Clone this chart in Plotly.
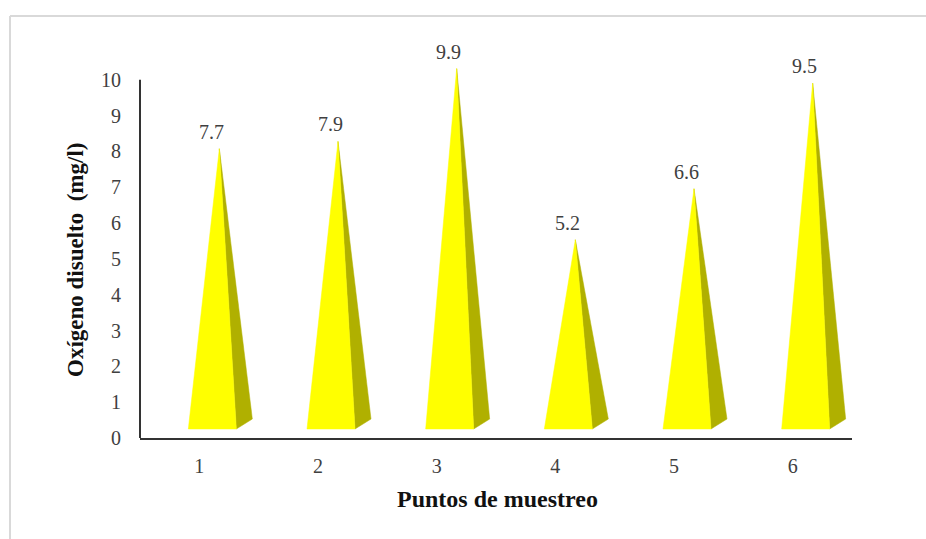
import plotly.graph_objects as go

# Sampling points and dissolved oxygen readings (mg/l)
puntos = ["1", "2", "3", "4", "5", "6"]
oxigeno = [7.7, 7.9, 9.9, 5.2, 6.6, 9.5]
y_ticks = [0, 1, 2, 3, 4, 5, 6, 7, 8, 9, 10]

W, H = 926, 539
L, R, T, B = 140, 74, 44, 101
Y_MAX = 11.0
px_x = (W - L - R) / 6.0          # pixels per category
px_y = (H - T - B) / Y_MAX        # pixels per y unit

# pyramid geometry (pixel offsets converted to data units)
base_front = 9 / px_y
base_back = 19 / px_y
x_left = -11 / px_x
x_right = 37 / px_x
x_back = 53 / px_x
x_apex = 20 / px_x
depth_scale = 36.4 / px_y

FRONT = "#FFFF00"
SIDE = "#B0B000"
SERIF = "Liberation Serif, Times New Roman, serif"

fig = go.Figure()
annotations = []
for i, (p, v) in enumerate(zip(puntos, oxigeno)):
    c = i + 1
    apex_y = base_front + v * depth_scale
    # right side face (shaded)
    fig.add_trace(go.Scatter(
        x=[c + x_right, c + x_back, c + x_apex, c + x_right],
        y=[base_front, base_back, apex_y, base_front],
        mode="lines", fill="toself", fillcolor=SIDE,
        line=dict(width=0.5, color=SIDE), hoverinfo="skip", showlegend=False))
    # front face
    fig.add_trace(go.Scatter(
        x=[c + x_left, c + x_right, c + x_apex, c + x_left],
        y=[base_front, base_front, apex_y, base_front],
        mode="lines", fill="toself", fillcolor=FRONT,
        line=dict(width=0.5, color=FRONT), name=p,
        hovertemplate="Punto %{text}: " + f"{v}<extra></extra>",
        text=[p] * 4, showlegend=False))
    annotations.append(dict(
        x=c + 12 / px_x, y=apex_y + 17 / px_y, xref="x", yref="y",
        text=f"{v}", showarrow=False, xanchor="center", yanchor="middle",
        font=dict(family=SERIF, size=20, color="#404040")))

annotations.append(dict(
    x=(497 - L) / (W - L - R), y=-(499 - (H - B)) / (H - T - B),
    xref="paper", yref="paper", text="<b>Puntos de muestreo</b>",
    showarrow=False, xanchor="center", yanchor="middle",
    font=dict(family=SERIF, size=24, color="#111111")))
annotations.append(dict(
    x=-(L - 75) / (W - L - R), y=((H - B) - 260) / (H - T - B),
    xref="paper", yref="paper", text="<b>Oxígeno disuelto  (mg/l)</b>",
    textangle=-90, showarrow=False, xanchor="center", yanchor="middle",
    font=dict(family=SERIF, size=23, color="#111111")))

pw = W - L - R
ph = H - T - B
shapes = [
    # y axis line from 0 to 10
    dict(type="line", xref="paper", yref="y", x0=0, x1=0, y0=0, y1=10,
         line=dict(color="#333333", width=2)),
    # outer chart frame (top and left edges)
    dict(type="line", xref="paper", yref="paper",
         x0=(10 - L) / pw, x1=(W + 5 - L) / pw,
         y0=((H - B) - 16) / ph, y1=((H - B) - 16) / ph,
         line=dict(color="#D9D9D9", width=2)),
    dict(type="line", xref="paper", yref="paper",
         x0=(10 - L) / pw, x1=(10 - L) / pw,
         y0=((H - B) - 16) / ph, y1=-(B + 5) / ph,
         line=dict(color="#D9D9D9", width=2)),
]

fig.update_layout(
    width=W, height=H,
    margin=dict(l=L, r=R, t=T, b=B),
    paper_bgcolor="white", plot_bgcolor="white",
    annotations=annotations, shapes=shapes,
    xaxis=dict(range=[0.5, 6.5], tickvals=list(range(1, 7)), ticktext=puntos,
               showgrid=False, zeroline=False, showline=True,
               linecolor="#333333", linewidth=2, ticks="",
               ticklabelstandoff=9,
               tickfont=dict(family=SERIF, size=20, color="#404040")),
    yaxis=dict(range=[0, Y_MAX], tickvals=y_ticks,
               ticktext=[str(t) for t in y_ticks],
               showgrid=False, zeroline=False, showline=False, ticks="",
               ticklabelstandoff=18,
               tickfont=dict(family=SERIF, size=20, color="#404040")),
)

fig.write_html("out.html")
